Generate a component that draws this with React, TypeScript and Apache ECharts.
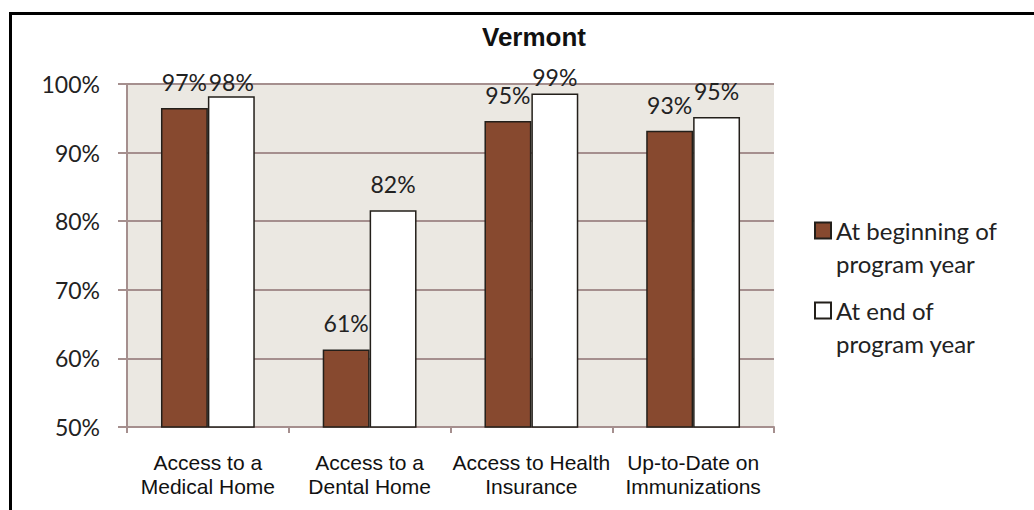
import React, { useEffect, useRef } from "react";
import * as echarts from "echarts";

const categories = [
  "Access to a\nMedical Home",
  "Access to a\nDental Home",
  "Access to Health\nInsurance",
  "Up-to-Date on\nImmunizations",
];
const beginningValues = [96.5, 61.3, 94.6, 93.2];
const endValues = [98.2, 81.6, 98.6, 95.2];
const beginningLabels = ["97%", "61%", "95%", "93%"];
const endLabels = ["98%", "82%", "99%", "95%"];
const seriesNames = ["At beginning of\nprogram year", "At end of\nprogram year"];
const yTicks = [50, 60, 70, 80, 90, 100];

const GRID = "#A58F8E";
const LABEL_FONT = "Lato";

export default function App() {
  const ref = useRef<HTMLDivElement>(null);
  useEffect(() => {
    if (!ref.current) return;
    const chart = echarts.init(ref.current, undefined, { renderer: "svg" });
    const endOffsets = [12, 0, 9, 0];
    const labelBase = {
      show: true,
      position: "top",
      distance: 14.5,
      fontFamily: LABEL_FONT,
      fontSize: 23,
      lineHeight: 23,
      color: "#222",
    };
    const legendText = {
      fontFamily: LABEL_FONT,
      fontSize: 24,
      lineHeight: 33,
      color: "#222",
    };
    const legendBase = {
      orient: "vertical",
      left: 814,
      padding: 0,
      itemWidth: 16,
      itemHeight: 16,
      icon: "rect",
      textStyle: legendText,
      formatter: (name: string) => "\n" + name,
    };
    chart.setOption({
      animation: false,
      backgroundColor: "#fff",
      title: {
        text: "Vermont",
        left: 482,
        top: 24,
        padding: 0,
        textStyle: {
          fontFamily: "Liberation Sans",
          fontWeight: "bold",
          fontSize: 26,
          color: "#111",
        },
      },
      legend: [
        { ...legendBase, data: [seriesNames[0]], top: 181 },
        { ...legendBase, data: [seriesNames[1]], top: 261 },
      ],
      grid: { left: 127, top: 84, right: 260, bottom: 83, containLabel: false },
      xAxis: {
        type: "category",
        data: categories,
        axisLine: { lineStyle: { color: GRID, width: 2 } },
        axisTick: { show: true, length: 6, lineStyle: { color: GRID, width: 2 } },
        axisLabel: {
          interval: 0,
          margin: 23,
          fontFamily: "Liberation Sans",
          fontSize: 21,
          lineHeight: 24,
          color: "#111",
        },
      },
      yAxis: {
        type: "value",
        min: yTicks[0],
        max: yTicks[yTicks.length - 1],
        interval: 10,
        axisLine: { show: true, lineStyle: { color: GRID, width: 2 } },
        axisTick: { show: true, length: 9, lineStyle: { color: GRID, width: 2 } },
        axisLabel: {
          formatter: "{value}%",
          margin: 27,
          fontFamily: LABEL_FONT,
          fontSize: 23,
          color: "#222",
        },
        splitLine: { show: true, lineStyle: { color: GRID, width: 2 } },
        splitArea: { show: true, areaStyle: { color: ["#EBE8E2", "#EBE8E2"] } },
      },
      graphic: [
        {
          type: "rect",
          z: 100,
          shape: { x: 10.5, y: 13.5, width: 1100, height: 700 },
          style: { fill: "none", stroke: "#000", lineWidth: 3 },
          silent: true,
        },
      ],
      series: [
        {
          name: seriesNames[0],
          type: "bar",
          barGap: "0%",
          barCategoryGap: "42%",
          itemStyle: { color: "#87492F", borderColor: "#231F1A", borderWidth: 1.5 },
          label: { ...labelBase, formatter: (p: any) => beginningLabels[p.dataIndex] },
          data: beginningValues,
        },
        {
          name: seriesNames[1],
          type: "bar",
          barGap: "0%",
          barCategoryGap: "42%",
          itemStyle: { color: "#FFFFFF", borderColor: "#231F1A", borderWidth: 1.5 },
          label: { ...labelBase, formatter: (p: any) => endLabels[p.dataIndex] },
          data: endValues.map((v, i) => ({
            value: v,
            label: { offset: [0, endOffsets[i]] },
          })),
        },
      ],
    });
    return () => chart.dispose();
  }, []);
  return (
    <div
      ref={ref}
      style={{ position: "absolute", left: 0, top: 0, width: 1034, height: 510 }}
    />
  );
}
